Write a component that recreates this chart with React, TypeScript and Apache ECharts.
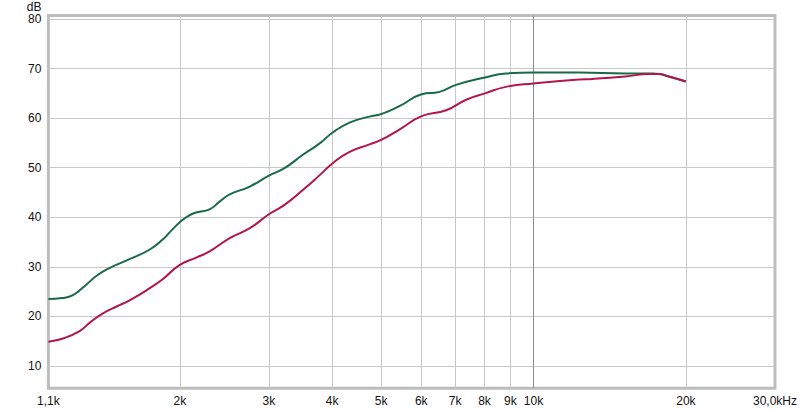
import React, { useEffect, useRef } from "react";
import * as echarts from "echarts";

// Frequencies in Hz, levels in dB
const greenFreq = [1100, 1170, 1230, 1300, 1370, 1455, 1595, 1745, 1850, 1920, 2000, 2080, 2160, 2290, 2400, 2510, 2750, 3000, 3220, 3500, 3780, 4010, 4330, 4740, 5000, 5430, 6010, 6520, 7030, 8020, 8820, 10000, 12300, 15200, 17200, 17700, 18500, 20000];
const greenDb = [23.5, 23.7, 24.3, 26.2, 28.2, 29.8, 31.6, 33.5, 35.5, 37.2, 39.0, 40.3, 41.0, 41.6, 43.2, 44.6, 46.2, 48.4, 49.9, 52.6, 54.9, 57.1, 59.1, 60.3, 60.8, 62.4, 64.8, 65.3, 66.7, 68.2, 69.0, 69.2, 69.2, 69.0, 69.0, 68.9, 68.4, 67.4];

const redFreq = [1100, 1180, 1270, 1330, 1410, 1500, 1595, 1745, 1850, 2000, 2160, 2290, 2510, 2750, 3000, 3220, 3500, 3780, 4010, 4330, 4740, 5000, 5430, 6010, 6720, 7360, 8020, 8820, 10000, 12300, 13100, 15200, 16900, 17700, 18500, 20000];
const redDb = [14.9, 15.6, 17.1, 18.8, 20.6, 22.0, 23.3, 25.7, 27.5, 30.4, 31.9, 33.1, 35.8, 37.8, 40.6, 42.5, 45.5, 48.5, 50.9, 53.2, 54.7, 55.6, 57.7, 60.4, 61.6, 63.7, 65.0, 66.3, 67.0, 67.8, 67.9, 68.4, 68.9, 68.9, 68.4, 67.4];

const xLabelValues = [1100, 2000, 3000, 4000, 5000, 6000, 7000, 8000, 9000, 10000, 20000, 30000];
const xLabelTexts = ["1,1k", "2k", "3k", "4k", "5k", "6k", "7k", "8k", "9k", "10k", "20k", "30,0kHz"];
const xGridValues = [2000, 3000, 4000, 5000, 6000, 7000, 8000, 9000, 10000, 20000];
const yTickValues = [10, 20, 30, 40, 50, 60, 70, 80];

const X_MIN = 1100;
const X_MAX = 30000;
const Y_MIN = 5.5;
const Y_MAX = 80.7;

export default function App() {
  const ref = useRef<HTMLDivElement>(null);

  useEffect(() => {
    document.body.style.margin = "0";
    if (!ref.current) return;
    const chart = echarts.init(ref.current, null, { renderer: "svg" });
    const font = "'Liberation Sans', Arial, sans-serif";
    const labelMap: Record<number, string> = {};
    xLabelValues.forEach((v, i) => (labelMap[v] = xLabelTexts[i]));

    chart.setOption({
      animation: false,
      backgroundColor: "#ffffff",
      grid: {
        left: 48.4,
        right: 23.9,
        top: 15.5,
        bottom: 21.7,
        show: true,
        borderColor: "#bdbdbd",
        borderWidth: 3,
        backgroundColor: "#ffffff",
      },
      xAxis: {
        type: "log",
        logBase: 10,
        min: X_MIN,
        max: X_MAX,
        axisLine: { show: false },
        axisTick: { show: false, customValues: xGridValues },
        splitLine: { show: true, lineStyle: { color: "#c8c8c8", width: 1 } },
        axisLabel: {
          customValues: xLabelValues,
          formatter: (v: number) => labelMap[Math.round(v)] ?? "",
          color: "#111",
          fontSize: 12,
          fontFamily: font,
          margin: 7,
        },
      },
      yAxis: {
        type: "value",
        min: Y_MIN,
        max: Y_MAX,
        name: "dB",
        nameLocation: "end",
        nameGap: 3,
        nameTextStyle: {
          color: "#111",
          fontSize: 12,
          fontFamily: font,
          align: "right",
          verticalAlign: "bottom",
          padding: [0, 7, 0, 0],
        },
        axisLine: { show: false },
        axisTick: { show: false, customValues: yTickValues },
        splitLine: { show: true, lineStyle: { color: "#c8c8c8", width: 1 } },
        axisLabel: {
          customValues: yTickValues,
          color: "#111",
          fontSize: 12,
          fontFamily: font,
          margin: 7,
        },
      },
      series: [
        {
          type: "line",
          data: greenFreq.map((f, i) => [f, greenDb[i]]),
          smooth: 0.5,
          showSymbol: false,
          symbol: "none",
          lineStyle: { color: "#196b47", width: 2 },
          z: 3,
          markLine: {
            silent: true,
            symbol: "none",
            label: { show: false },
            lineStyle: { color: "#8c8c8c", width: 1, type: "solid" },
            data: [{ xAxis: 10000 }],
            z: 1,
          },
        },
        {
          type: "line",
          data: redFreq.map((f, i) => [f, redDb[i]]),
          smooth: 0.5,
          showSymbol: false,
          symbol: "none",
          lineStyle: { color: "#b3164b", width: 2 },
          z: 4,
        },
      ],
    });
    return () => chart.dispose();
  }, []);

  return <div ref={ref} style={{ width: 800, height: 410 }} />;
}
